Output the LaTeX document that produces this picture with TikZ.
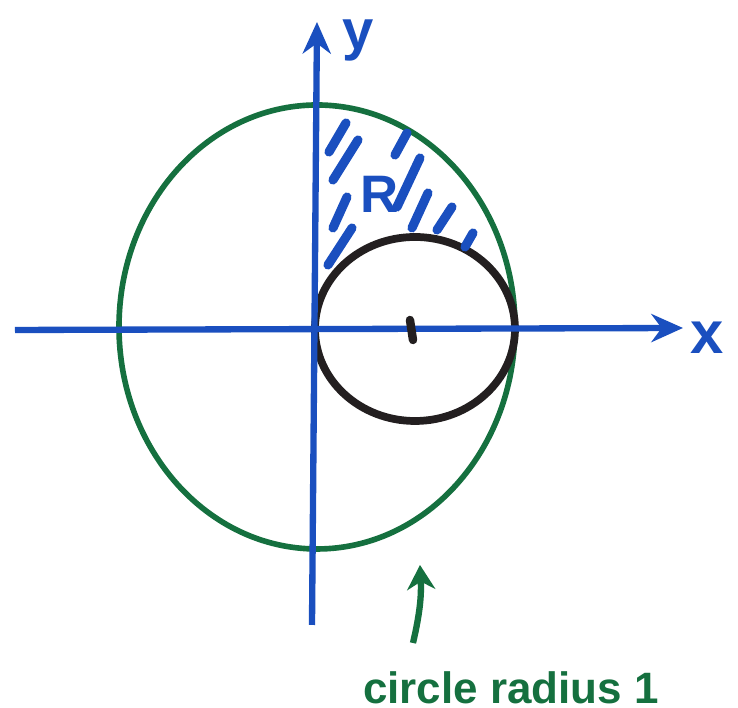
\documentclass[tikz,border=0pt]{standalone}
\usepackage{fontspec}
\setmainfont{Liberation Sans}
\usepackage{xcolor}
\usepackage{tikz}
\usetikzlibrary{arrows.meta}
\definecolor{penblue}{HTML}{1A4FBF}
\definecolor{pengreen}{HTML}{15703F}
\definecolor{penblack}{HTML}{231F20}

\begin{document}
\begin{tikzpicture}[
  axis/.style={draw=penblue, line width=1.8pt,
    -{Stealth[length=9pt, width=8pt]}},
  outer/.style={draw=pengreen, line width=1.6pt},
  inner/.style={draw=penblack, line width=2.2pt},
  hatch/.style={draw=penblue, line width=2.6pt, line cap=round},
  lbl/.style={font=\fontsize{17}{19}\selectfont\bfseries, text=penblue, inner sep=1pt},
  note/.style={font=\fontsize{12.5}{14}\selectfont\bfseries, text=pengreen, inner sep=0pt},
]
\useasboundingbox (-3.15,-3.78) rectangle (4.23,3.30);

% Circles
\draw[outer] (0.02,0.03) ellipse [x radius=1.98, y radius=2.22];
\draw[inner] (1.0,0.01) ellipse [x radius=1.0, y radius=0.92];

% Axes
\coordinate (xstart) at (-3.0,0);
\coordinate (xend) at (3.68,0.02);
\coordinate (ystart) at (-0.03,-2.95);
\coordinate (yend) at (0.02,3.08);
\draw[axis] (xstart) -- (xend);
\draw[axis] (ystart) -- (yend);
\node[lbl] (xlabel) at (3.92,-0.08) {x};
\node[lbl, font=\fontsize{16}{18}\selectfont\bfseries] (ylabel) at (0.43,2.90) {y};

% Centre tick
\draw[penblack, line width=2.4pt, line cap=round] (0.95,0.10) -- (0.98,-0.10);

% Hatching of R
\foreach \ax/\ay/\bx/\by in {
  0.14/1.78/0.31/2.07, 0.18/1.50/0.43/1.90, 0.18/1.02/0.32/1.33,
  0.13/0.65/0.37/1.02, 0.80/1.75/0.92/1.97, 0.82/1.23/1.05/1.72,
  0.97/1.02/1.13/1.37, 1.22/1.00/1.37/1.23, 1.50/0.83/1.58/0.97}
  \draw[hatch] (\ax,\ay) -- (\bx,\by);
\node[lbl, font=\fontsize{15}{17}\selectfont\bfseries] (rlabel) at (0.65,1.36) {R};

% Note
\node[note] (caption) at (1.96,-3.58) {circle radius 1};
\coordinate (arrowtail) at (0.98,-3.13);
\coordinate (arrowtip) at (1.05,-2.35);
\draw[pengreen, line width=1.8pt, -{Stealth[length=7pt, width=8pt]}]
  (arrowtail) to[bend right=8] (arrowtip);

\end{tikzpicture}
\end{document}
